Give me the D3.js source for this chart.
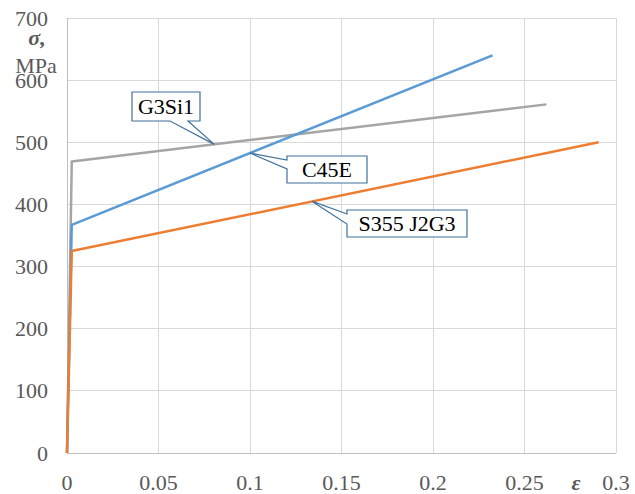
<!DOCTYPE html>
<html><head><meta charset="utf-8">
<script src="https://cdn.jsdelivr.net/npm/d3@7"></script>
<style>body{margin:0;background:#fff} svg text{font-family:"Liberation Serif","DejaVu Serif",serif;}</style>
</head><body>
<svg id="c" width="635" height="494"></svg>
<script>
const xTicks = [0, 0.05, 0.1, 0.15, 0.2, 0.25, 0.3];
const xTickLabels = ["0", "0.05", "0.1", "0.15", "0.2", "0.25", "0.3"];
const yTicks = [0, 100, 200, 300, 400, 500, 600, 700];
const seriesNames = ["G3Si1", "C45E", "S355 J2G3"];
const seriesColors = ["#a5a5a5", "#5b9bd5", "#ed7d31"];
const strainG3Si1 = [0, 0.0026, 0.262];
const stressG3Si1 = [0, 469, 561];
const strainC45E = [0, 0.0026, 0.2325];
const stressC45E = [0, 367, 640];
const strainS355 = [0, 0.0026, 0.2905];
const stressS355 = [0, 325, 500];
const labelAnchorX = [0.0805, 0.1, 0.134];

const svg = d3.select("#c");
const x = d3.scaleLinear().domain([0, 0.3]).range([67, 616]);
const y = d3.scaleLinear().domain([0, 700]).range([453, 18]);

// grid
svg.append("g").selectAll("line").data(yTicks.slice(1)).join("line")
  .attr("x1", x(0)).attr("x2", x(0.3)).attr("y1", d => y(d)).attr("y2", d => y(d))
  .attr("stroke", "#d9d9d9").attr("stroke-width", 1).attr("shape-rendering", "crispEdges");
svg.append("g").selectAll("line").data(xTicks.slice(1)).join("line")
  .attr("y1", y(0)).attr("y2", y(700)).attr("x1", d => x(d)).attr("x2", d => x(d))
  .attr("stroke", "#d9d9d9").attr("stroke-width", 1).attr("shape-rendering", "crispEdges");
// axes lines
svg.append("line").attr("x1", x(0)).attr("x2", x(0)).attr("y1", y(0)).attr("y2", y(700))
  .attr("stroke", "#bfbfbf").attr("shape-rendering", "crispEdges");
svg.append("line").attr("x1", x(0)).attr("x2", x(0.3)).attr("y1", y(0)).attr("y2", y(0))
  .attr("stroke", "#bfbfbf").attr("shape-rendering", "crispEdges");

// tick labels
svg.append("g").selectAll("text").data(yTicks).join("text")
  .attr("x", 48).attr("y", d => y(d) + 7.5).attr("text-anchor", "end")
  .attr("font-size", 22).attr("fill", "#595959").text(d => d);
svg.append("g").selectAll("text").data(xTicks).join("text")
  .attr("x", d => x(d)).attr("y", 490).attr("text-anchor", "middle")
  .attr("font-size", 22).attr("fill", "#595959")
  .text((d, i) => xTickLabels[i]);

// axis titles
svg.append("text").attr("x", 37).attr("y", 45).attr("text-anchor", "middle")
  .attr("font-size", 22).attr("font-weight", "bold").attr("font-style", "italic")
  .attr("fill", "#595959").text("σ,");
svg.append("text").attr("x", 36).attr("y", 73).attr("text-anchor", "middle")
  .attr("font-size", 22).attr("fill", "#595959").text("MPa");
svg.append("text").attr("x", 576).attr("y", 490).attr("text-anchor", "middle")
  .attr("font-size", 22).attr("font-weight", "bold").attr("font-style", "italic")
  .attr("fill", "#595959").text("ε");

// series
const series = [
  {xs: strainG3Si1, ys: stressG3Si1},
  {xs: strainC45E, ys: stressC45E},
  {xs: strainS355, ys: stressS355}
];
const line = d3.line().x(d => x(d[0])).y(d => y(d[1]));
series.forEach((s, i) => {
  const pts = s.xs.map((v, j) => [v, s.ys[j]]);
  svg.append("path").attr("d", line(pts)).attr("fill", "none")
    .attr("stroke", seriesColors[i]).attr("stroke-width", 2.5).attr("stroke-linejoin", "round");
});

function interp(s, xv) {
  for (let j = 1; j < s.xs.length; j++) {
    if (xv <= s.xs[j]) {
      const t = (xv - s.xs[j-1]) / (s.xs[j] - s.xs[j-1]);
      return s.ys[j-1] + t * (s.ys[j] - s.ys[j-1]);
    }
  }
  return s.ys[s.ys.length - 1];
}

const callouts = [
  {box: [132, 92, 200, 121], side: "bottom", base: [170, 188]},
  {box: [287, 156, 367, 183], side: "left", base: [160, 169]},
  {box: [347, 210, 467, 237], side: "left", base: [214, 224]}
];
callouts.forEach((c, i) => {
  const tx = x(labelAnchorX[i]), ty = y(interp(series[i], labelAnchorX[i]));
  const [x0, y0, x1, y1] = c.box;
  let p;
  if (c.side === "bottom") {
    p = `M${x0},${y0}L${x1},${y0}L${x1},${y1}L${c.base[1]},${y1}L${tx},${ty}L${c.base[0]},${y1}L${x0},${y1}Z`;
  } else {
    p = `M${x0},${y0}L${x1},${y0}L${x1},${y1}L${x0},${y1}L${x0},${c.base[1]}L${tx},${ty}L${x0},${c.base[0]}Z`;
  }
  svg.append("path").attr("d", p).attr("fill", "#fff").attr("stroke", "#41719c").attr("stroke-width", 1.2);
  svg.append("text").attr("x", (x0 + x1) / 2).attr("y", (y0 + y1) / 2 + 7.5)
    .attr("text-anchor", "middle").attr("font-size", 22)
    .attr("fill", "#000").text(seriesNames[i]);
});
</script>
</body></html>
